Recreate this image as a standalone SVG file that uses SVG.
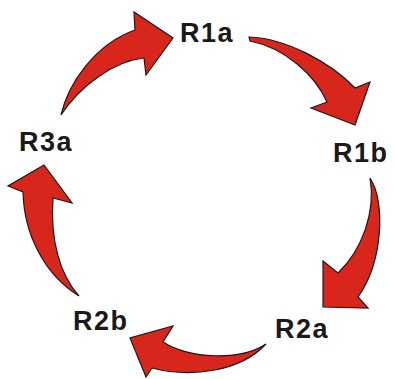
<svg xmlns="http://www.w3.org/2000/svg" width="395" height="379" viewBox="0 0 395 379">
<style>
.lbl{font-family:"Liberation Sans",Arial,sans-serif;font-weight:bold;font-size:27px;letter-spacing:1.5px;fill:#1a1a1a}
.arr{fill:#d9261c;stroke:#1a1a1a;stroke-width:1.2;stroke-linejoin:miter}
</style>
<rect width="395" height="379" fill="#ffffff"/>
<g id="connectors">
<path class="arr" d="M61,115 C68,84 95,44 135,30 L134,12 L173,38 L146,75 L144,58 C114,61 80,86 61,115 Z"/>
<path class="arr" d="M249,37 C285,38 330,62 355,88 L370,82 L355,125 L311,108 L327,102 C315,75 285,48 250,41 Z"/>
<path class="arr" d="M370,178 C385,200 384,260 358,297 L368,308 L323,307 L323,261 L338,273 C362,250 376,212 370,178 Z"/>
<path class="arr" d="M266,344 C240,361 190,359 163,342 L173,326 L130,338 L146,377 L152,368 C190,378 240,372 266,344 Z"/>
<path class="arr" d="M79,296 C60,275 50,240 53,198 L72,203 L44,165 L8,186 L23,192 C24,235 45,275 79,296 Z"/>
</g>
<g id="R1a"><text class="lbl" x="180" y="42">R1a</text></g>
<g id="R1b"><text class="lbl" x="333" y="162">R1b</text></g>
<g id="R3a"><text class="lbl" x="19" y="151">R3a</text></g>
<g id="R2b"><text class="lbl" x="73" y="330">R2b</text></g>
<g id="R2a"><text class="lbl" x="275" y="338">R2a</text></g>
</svg>
